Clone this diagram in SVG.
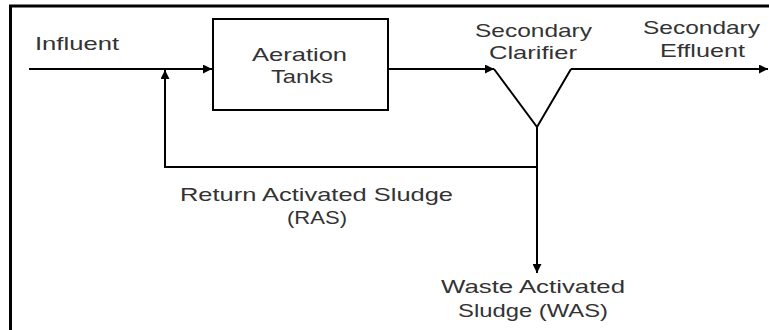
<svg xmlns="http://www.w3.org/2000/svg" width="769" height="330" viewBox="0 0 769 330">
  <style>
    .lbl { font-family: "Liberation Sans", Arial, sans-serif; font-size: 18.5px; fill: #333; }
    .ln { fill: none; stroke: #000; stroke-width: 2; }
    .frame { fill: none; stroke: #000; stroke-width: 3; }
  </style>
  <defs>
    <marker id="arr" viewBox="0 0 10 10" refX="10" refY="5" markerWidth="9" markerHeight="9" markerUnits="userSpaceOnUse" orient="auto">
      <path d="M0,0 L10,5 L0,10 Z" fill="#000"/>
    </marker>
  </defs>

  <rect class="frame" x="10.5" y="6" width="800" height="400"/>

  <g id="aeration-tanks">
    <rect class="ln" x="213" y="19" width="175" height="91"/>
    <text class="lbl" x="252" y="61" textLength="95" lengthAdjust="spacingAndGlyphs">Aeration</text>
    <text class="lbl" x="271" y="83" textLength="62" lengthAdjust="spacingAndGlyphs">Tanks</text>
  </g>

  <g id="secondary-clarifier">
    <path class="ln" d="M494,69 L537,127 L571,69"/>
    <text class="lbl" x="475" y="36.5" textLength="117" lengthAdjust="spacingAndGlyphs">Secondary</text>
    <text class="lbl" x="489" y="59" textLength="88" lengthAdjust="spacingAndGlyphs">Clarifier</text>
  </g>

  <g id="connectors">
    <line class="ln" x1="29" y1="69" x2="212" y2="69" marker-end="url(#arr)"/>
    <line class="ln" x1="388" y1="69" x2="494" y2="69" marker-end="url(#arr)"/>
    <line class="ln" x1="571" y1="69" x2="768" y2="69" marker-end="url(#arr)"/>
    <line class="ln" x1="537" y1="127" x2="537" y2="273" marker-end="url(#arr)"/>
    <polyline class="ln" points="537,167 165,167 165,70" marker-end="url(#arr)"/>
  </g>

  <g id="labels">
    <text class="lbl" x="35" y="49.5" textLength="84" lengthAdjust="spacingAndGlyphs">Influent</text>
    <text class="lbl" x="643" y="33.5" textLength="117" lengthAdjust="spacingAndGlyphs">Secondary</text>
    <text class="lbl" x="660" y="56.5" textLength="85" lengthAdjust="spacingAndGlyphs">Effluent</text>
    <text class="lbl" x="180" y="200.5" textLength="273" lengthAdjust="spacingAndGlyphs">Return Activated Sludge</text>
    <text class="lbl" x="287" y="224" textLength="60" lengthAdjust="spacingAndGlyphs">(RAS)</text>
    <text class="lbl" x="441" y="293" textLength="184" lengthAdjust="spacingAndGlyphs">Waste Activated</text>
    <text class="lbl" x="458" y="316.5" textLength="150" lengthAdjust="spacingAndGlyphs">Sludge (WAS)</text>
  </g>
</svg>
